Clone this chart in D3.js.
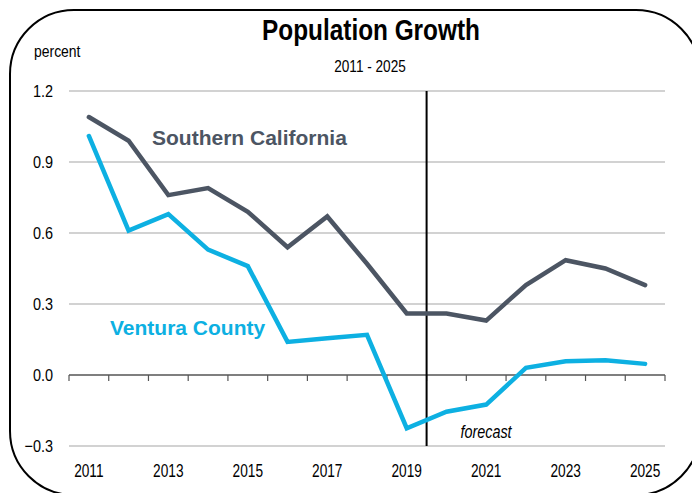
<!DOCTYPE html>
<html>
  <head>
    <script src="https://d3js.org/d3.v7.min.js" charset="utf-8"></script>
    <style type="text/css">
    body { margin: 0; background: #fff; }
    text { font-family: "Liberation Sans", Arial, sans-serif; fill: #000; }
    .lbl { font-weight: bold; }
    </style>
  </head>
  <body>
  <script type="text/javascript">
  // data
  var years = [2011, 2012, 2013, 2014, 2015, 2016, 2017, 2018, 2019, 2020, 2021, 2022, 2023, 2024, 2025];
  var socal = [1.09, 0.99, 0.76, 0.79, 0.69, 0.54, 0.67, 0.47, 0.26, 0.26, 0.23, 0.38, 0.485, 0.45, 0.38];
  var ventura = [1.01, 0.61, 0.68, 0.53, 0.46, 0.14, 0.155, 0.17, -0.225, -0.155, -0.125, 0.03, 0.058, 0.062, 0.047];
  var yTicks = [-0.3, 0.0, 0.3, 0.6, 0.9, 1.2];
  var xLabels = [2011, 2013, 2015, 2017, 2019, 2021, 2023, 2025];
  var forecastAfter = 2019;

  var W = 692, H = 493;
  var pLeft = 69, pRight = 665, pTop = 91, pBottom = 446;

  var svg = d3.select("body").append("svg").attr("width", W).attr("height", H);

  // no Arial Narrow here, so squeeze the text horizontally
  function narrow(sel, f) {
    sel.each(function() {
      var w = this.getComputedTextLength();
      d3.select(this).attr("textLength", w * f).attr("lengthAdjust", "spacingAndGlyphs");
    });
  }

  // rounded frame
  svg.append("rect")
    .attr("x", 10).attr("y", 10).attr("width", 690).attr("height", 485)
    .attr("rx", 64).attr("ry", 64)
    .attr("fill", "none").attr("stroke", "#000").attr("stroke-width", 2);

  var x = d3.scaleBand().domain(years).range([pLeft, pRight]);
  var y = d3.scaleLinear().domain([-0.3, 1.2]).range([pBottom, pTop]);

  // grid lines
  svg.selectAll("line.grid").data(yTicks.filter(function(d) { return d !== 0; }))
    .enter().append("line")
    .attr("class", "grid")
    .attr("x1", pLeft).attr("x2", pRight)
    .attr("y1", function(d) { return y(d); }).attr("y2", function(d) { return y(d); })
    .attr("stroke", "#a6a6a6").attr("stroke-width", 1.2);

  // y labels
  svg.selectAll("text.ytick").data(yTicks)
    .enter().append("text")
    .attr("class", "ytick")
    .attr("x", 53).attr("y", function(d) { return y(d); })
    .attr("dy", "0.36em")
    .attr("text-anchor", "end")
    .style("font-size", "17px")
    .text(function(d) { return d3.format(".1f")(d); })
    .call(narrow, 0.85);

  // zero axis with ticks at band edges
  var zero = svg.append("g").attr("transform", "translate(0," + y(0) + ")");
  zero.append("line").attr("x1", pLeft).attr("x2", pRight).attr("stroke", "#000").attr("stroke-width", 1.2);
  var edges = years.map(function(d) { return x(d); }).concat([pRight]);
  zero.selectAll("line.tk").data(edges).enter().append("line")
    .attr("class", "tk")
    .attr("x1", function(d) { return d; }).attr("x2", function(d) { return d; })
    .attr("y1", 0).attr("y2", 6)
    .attr("stroke", "#555").attr("stroke-width", 1.2);

  // x labels
  svg.selectAll("text.xlab").data(xLabels)
    .enter().append("text")
    .attr("class", "xlab")
    .attr("x", function(d) { return x(d) + x.bandwidth() / 2; })
    .attr("y", 477)
    .attr("text-anchor", "middle")
    .style("font-size", "18px")
    .text(function(d) { return d; })
    .call(narrow, 0.76);

  // forecast divider
  var fx = x(forecastAfter) + x.bandwidth();
  svg.append("line")
    .attr("x1", fx).attr("x2", fx).attr("y1", pTop).attr("y2", pBottom)
    .attr("stroke", "#000").attr("stroke-width", 2);
  svg.append("text")
    .attr("x", 486).attr("y", 438)
    .attr("text-anchor", "middle")
    .style("font-size", "18px").style("font-style", "italic")
    .text("forecast")
    .call(narrow, 0.8);

  var line = d3.line()
    .x(function(d, i) { return x(years[i]) + x.bandwidth() / 2; })
    .y(function(d) { return y(d); });

  svg.append("path").datum(socal)
    .attr("d", line).attr("fill", "none")
    .attr("stroke", "#4c5563").attr("stroke-width", 4.5)
    .attr("stroke-linejoin", "miter").attr("stroke-linecap", "round");
  svg.append("path").datum(ventura)
    .attr("d", line).attr("fill", "none")
    .attr("stroke", "#0db0e2").attr("stroke-width", 4.5)
    .attr("stroke-linejoin", "miter").attr("stroke-linecap", "round");

  // series labels
  svg.append("text").attr("class", "lbl")
    .attr("x", 152).attr("y", 145)
    .style("font-size", "21px").style("fill", "#4c5563")
    .text("Southern California");
  svg.append("text").attr("class", "lbl")
    .attr("x", 110).attr("y", 335)
    .style("font-size", "21px").style("fill", "#0db0e2")
    .text("Ventura County");

  // titles
  svg.append("text")
    .attr("x", 371).attr("y", 40)
    .attr("text-anchor", "middle")
    .style("font-size", "29px").style("font-weight", "bold")
    .text("Population Growth")
    .call(narrow, 0.84);
  svg.append("text")
    .attr("x", 370).attr("y", 72)
    .attr("text-anchor", "middle")
    .style("font-size", "17px")
    .text("2011 - 2025")
    .call(narrow, 0.8);
  svg.append("text")
    .attr("x", 34).attr("y", 57)
    .style("font-size", "17px")
    .text("percent")
    .call(narrow, 0.82);
  </script>
  </body>
</html>
